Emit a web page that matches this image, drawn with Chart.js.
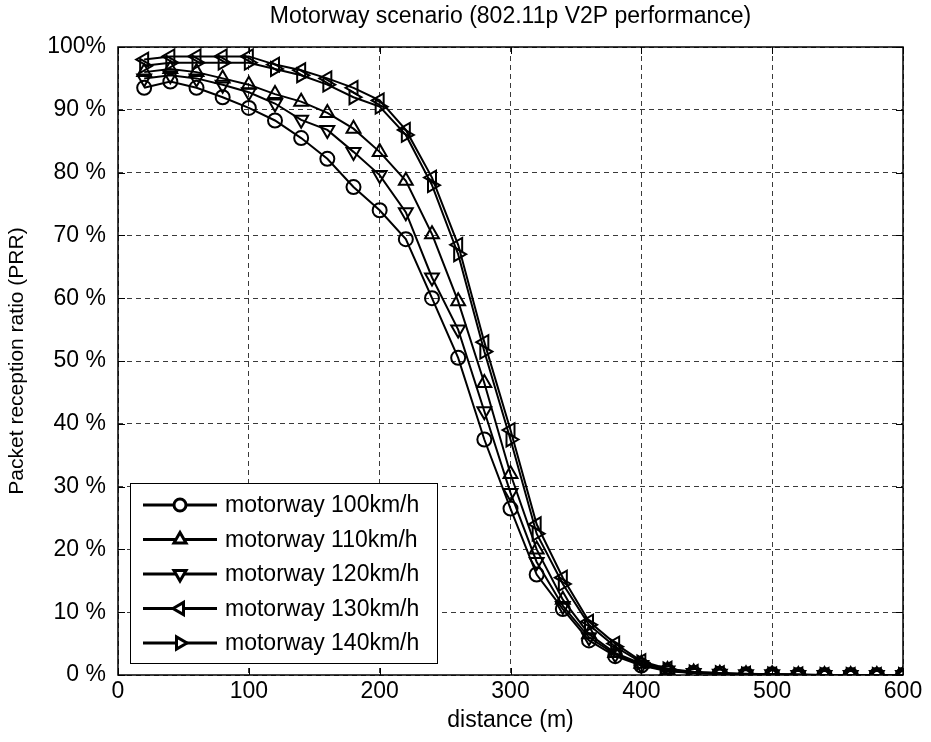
<!DOCTYPE html>
<html>
<head>
<meta charset="utf-8">
<script src="https://cdn.jsdelivr.net/npm/chart.js@4/dist/chart.umd.min.js"></script>
<style>
  html, body { margin: 0; padding: 0; background: #fff; }
  #wrap { width: 931px; height: 742px; }
</style>
</head>
<body>
<div id="wrap"><canvas id="prrChart" width="931" height="742"></canvas></div>
<script>
// distancia (m), un punto cada 20 m
const distances = [20, 40, 60, 80, 100, 120, 140, 160, 180, 200, 220, 240, 260, 280, 300,
                   320, 340, 360, 380, 400, 420, 440, 460, 480, 500, 520, 540, 560, 580, 600];

const speedLabels = ['motorway 100km/h', 'motorway 110km/h', 'motorway 120km/h',
                     'motorway 130km/h', 'motorway 140km/h'];

// PRR (%)
const prr100 = [93.5, 94.5, 93.5, 92, 90.3, 88.3, 85.5, 82.2, 77.7, 74, 69.4, 60, 50.5, 37.5, 26.5,
                16, 10.5, 5.5, 3, 1.5, 0.6, 0.3, 0.2, 0.1, 0.1, 0, 0, 0, 0, 0];
const prr110 = [96, 96.5, 96, 95, 94, 92.5, 91.3, 89.5, 87, 83.3, 78.7, 70.2, 59.5, 46.5, 32,
                20, 12, 6.5, 3.5, 1.8, 0.8, 0.4, 0.2, 0.1, 0.1, 0, 0, 0, 0, 0];
const prr120 = [95, 95.5, 95, 94, 92.8, 91, 88.4, 86.8, 83.3, 79.6, 73.7, 63.3, 55, 42, 29,
                18, 11, 6, 3.3, 1.6, 0.7, 0.3, 0.2, 0.1, 0.1, 0, 0, 0, 0, 0];
const prr130 = [98, 98.5, 98.5, 98.5, 98.5, 97.2, 96.3, 95, 93.5, 91.5, 86.8, 79.2, 68.5, 53, 39,
                24, 15.5, 8.5, 5, 2.2, 1, 0.5, 0.3, 0.2, 0.1, 0.1, 0, 0, 0, 0];
const prr140 = [97, 97.5, 97.5, 97.5, 97.5, 96.5, 95.5, 94, 92, 90.5, 86, 78, 67, 51.5, 37.5,
                22.5, 14.5, 8, 4.5, 2, 0.9, 0.4, 0.3, 0.1, 0.1, 0, 0, 0, 0, 0];

const yTicks = [0, 10, 20, 30, 40, 50, 60, 70, 80, 90, 100];
const xTicks = [0, 100, 200, 300, 400, 500, 600];

const FONT = 'Liberation Sans';

const series = [
    { data: prr100, style: 'circle', rot: 0, r: 7 },
    { data: prr110, style: 'triangle', rot: 0, r: 8 },
    { data: prr120, style: 'triangle', rot: 180, r: 8 },
    { data: prr130, style: 'triangle', rot: 270, r: 8 },
    { data: prr140, style: 'triangle', rot: 90, r: 8 }
];

const datasets = series.map((s, i) => ({
    label: speedLabels[i],
    data: distances.map((d, k) => ({ x: d, y: s.data[k] })),
    borderColor: '#000',
    borderWidth: 2,
    backgroundColor: 'rgba(0,0,0,0)',
    pointStyle: s.style,
    pointRotation: s.rot,
    pointRadius: s.r,
    pointBorderWidth: 2,
    pointBorderColor: '#000',
    pointBackgroundColor: 'rgba(0,0,0,0)',
    tension: 0
}));

// marco negro con marcas hacia dentro (estilo MATLAB)
const boxPlugin = {
    id: 'boxTicks',
    afterDatasetsDraw(chart) {
        const { ctx, chartArea: a, scales: { x, y } } = chart;
        ctx.save();
        ctx.strokeStyle = '#000';
        ctx.lineWidth = 1;
        ctx.beginPath();
        xTicks.forEach(v => {
            const px = Math.round(x.getPixelForValue(v)) + 0.5;
            ctx.moveTo(px, a.bottom); ctx.lineTo(px, a.bottom - 7);
            ctx.moveTo(px, a.top); ctx.lineTo(px, a.top + 7);
        });
        yTicks.forEach(v => {
            const py = Math.round(y.getPixelForValue(v)) + 0.5;
            ctx.moveTo(a.left, py); ctx.lineTo(a.left + 7, py);
            ctx.moveTo(a.right, py); ctx.lineTo(a.right - 7, py);
        });
        ctx.stroke();
        ctx.lineWidth = 1.5;
        ctx.strokeRect(a.left, a.top, a.right - a.left, a.bottom - a.top);
        ctx.restore();
    }
};

// leyenda dentro del area de trazado, abajo a la izquierda
const legendPlugin = {
    id: 'insideLegend',
    afterDraw(chart) {
        const { ctx } = chart;
        const bx = 130, by = 483, bw = 307, bh = 180;
        ctx.save();
        ctx.fillStyle = '#fff';
        ctx.fillRect(bx, by, bw, bh);
        ctx.strokeStyle = '#000';
        ctx.lineWidth = 1;
        ctx.strokeRect(bx + 0.5, by + 0.5, bw, bh);
        ctx.font = '23px "' + FONT + '"';
        ctx.textBaseline = 'middle';
        ctx.fillStyle = '#000';
        series.forEach((s, i) => {
            const cy = 505 + i * 34.5;
            ctx.lineWidth = 3;
            ctx.beginPath();
            ctx.moveTo(143, cy); ctx.lineTo(217, cy);
            ctx.stroke();
            ctx.fillStyle = '#fff';
            Chart.helpers.drawPoint(ctx, {
                pointStyle: s.style, rotation: s.rot, radius: s.r - 1, borderWidth: 2.5
            }, 180, cy);
            ctx.fillStyle = '#000';
            ctx.fillText(speedLabels[i], 225, cy + 1);
        });
        ctx.restore();
    }
};

new Chart(document.getElementById('prrChart').getContext('2d'), {
    type: 'line',
    data: { datasets },
    options: {
        responsive: false,
        animation: false,
        layout: { padding: { left: 0, right: 28, top: 0, bottom: 0 } },
        plugins: {
            legend: { display: false },
            tooltip: { enabled: false },
            title: {
                display: true,
                fullSize: false,
                text: 'Motorway scenario (802.11p V2P performance)',
                color: '#000',
                font: { family: FONT, size: 23, weight: 'normal' },
                padding: { top: 3, bottom: 16.4 }
            }
        },
        scales: {
            x: {
                type: 'linear',
                min: 0, max: 600,
                afterBuildTicks: sc => { sc.ticks = xTicks.map(v => ({ value: v })); },
                afterFit: sc => { sc.height = 67; },
                grid: { color: '#3a3a3a', lineWidth: 1, drawTicks: false },
                border: { display: false, dash: [5, 4] },
                ticks: {
                    color: '#000', padding: 3, maxRotation: 0,
                    font: { family: FONT, size: 23 }
                },
                title: {
                    display: true, text: 'distance (m)', color: '#000',
                    font: { family: FONT, size: 23 },
                    padding: { top: 0, bottom: 8 }
                }
            },
            y: {
                type: 'linear',
                min: 0, max: 100,
                afterBuildTicks: sc => { sc.ticks = yTicks.map(v => ({ value: v })); },
                afterFit: sc => { sc.width = 118; },
                grid: { color: '#3a3a3a', lineWidth: 1, drawTicks: false },
                border: { display: false, dash: [5, 4] },
                ticks: {
                    color: '#000', padding: 12,
                    font: { family: FONT, size: 23 },
                    callback: v => v === 100 ? '100%' : v + ' %'
                },
                title: {
                    display: true, text: 'Packet reception ratio (PRR)', color: '#000',
                    font: { family: FONT, size: 21 },
                    padding: { top: 5, bottom: 0 }
                }
            }
        }
    },
    plugins: [boxPlugin, legendPlugin]
});
</script>
</body>
</html>
